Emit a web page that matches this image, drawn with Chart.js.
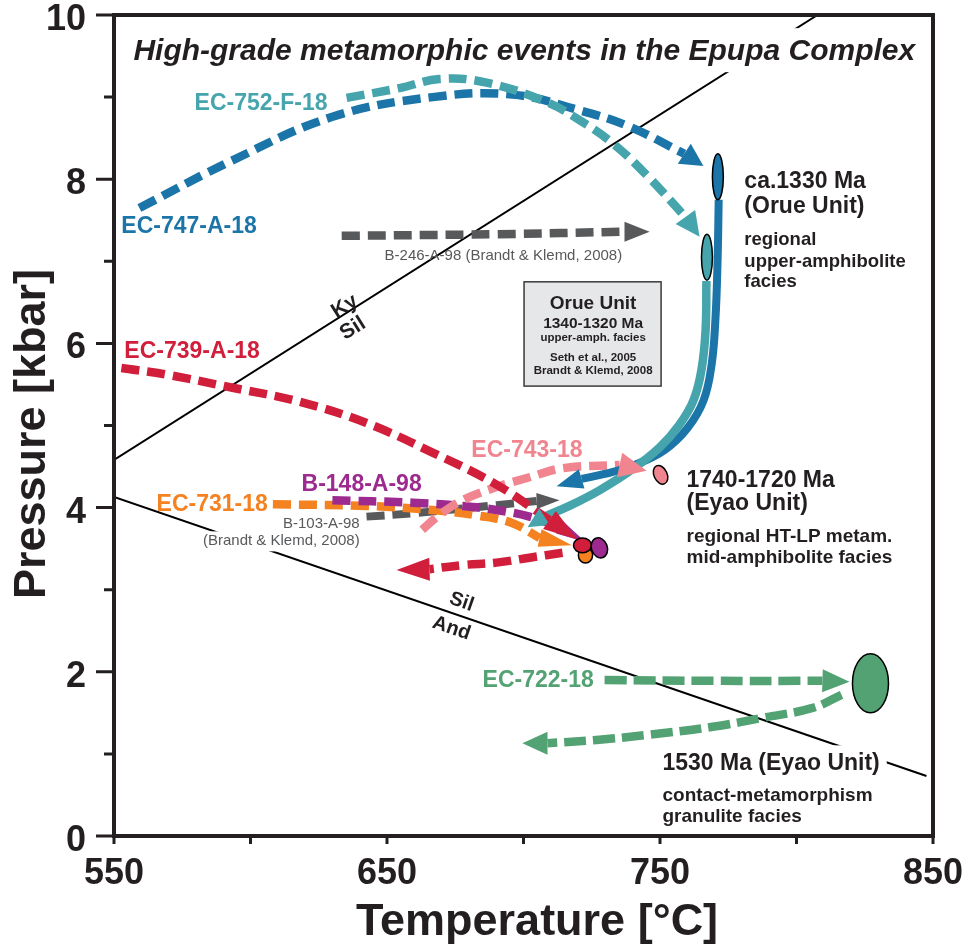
<!DOCTYPE html>
<html>
<head>
<meta charset="utf-8">
<title>P-T paths, Epupa Complex</title>
<script src="https://cdn.jsdelivr.net/npm/chart.js@4.4.1/dist/chart.umd.min.js"></script>
<style>
  html, body { margin: 0; padding: 0; background: #fff; }
  #wrap { width: 976px; height: 947px; position: relative; }
</style>
</head>
<body>
<div id="wrap"><canvas id="pt"></canvas></div>
<script>
// axis ticks
const tempTicks = [550, 650, 750, 850];
const pressureTicks = [0, 2, 4, 6, 8, 10];

// reaction boundaries [T degC, P kbar]
const kySil = [[550, 4.58], [807.7, 10]];
const silAnd = [[550, 4.13], [847.6, 0.73]];

// P-T paths [T, P]; the last pair is where the arrow points
const ec747 = [[559.3, 7.65], [593.4, 8.23], [630.0, 8.76], [666.7, 9.00], [696.0, 9.03], [720.5, 8.84], [738.8, 8.64], [758.9, 8.31], [765.9, 8.16]];
const ec752 = [[635.2, 8.99], [654.6, 9.11], [669.2, 9.22], [686.0, 9.18], [708.4, 8.94], [720.5, 8.72], [732.6, 8.44], [745.1, 8.05], [759.3, 7.54], [764.5, 7.30]];
const b246 = [[633.4, 7.31], [690.0, 7.33], [737.0, 7.36], [746.2, 7.36]];
const ec739 = [[552.7, 5.70], [569.2, 5.62], [593.4, 5.46], [617.9, 5.29], [642.5, 5.03], [666.7, 4.67], [690.1, 4.28], [709.5, 3.85], [719.8, 3.61]];
const ec739Retro = [[714.3, 3.45], [702.2, 3.39], [690.1, 3.33], [677.7, 3.30], [665.6, 3.25], [653.5, 3.24]];
const ec743 = [[662.9, 3.73], [669.2, 3.91], [677.7, 4.09], [690.1, 4.25], [702.2, 4.37], [714.3, 4.48], [735.2, 4.52], [745.1, 4.45]];
const b148 = [[630.0, 4.09], [659.3, 4.06], [677.7, 4.02], [690.1, 3.97], [702.2, 3.89], [713.2, 3.76], [722.7, 3.58]];
const ec731 = [[608.2, 4.04], [642.5, 4.02], [666.7, 3.97], [683.9, 3.90], [696.0, 3.81], [705.9, 3.63], [717.7, 3.54]];
const b103 = [[642.5, 3.89], [659.3, 3.93], [675.0, 3.98], [690.1, 4.03], [704.8, 4.08], [713.2, 4.09]];
const ec722 = [[729.7, 1.90], [770.0, 1.89], [809.5, 1.89], [819.4, 1.88]];
const ec722Retro = [[816.5, 1.72], [805.9, 1.56], [787.6, 1.44], [769.3, 1.33], [745.1, 1.23], [726.7, 1.17], [708.8, 1.13], [699.6, 1.13]];
const orueBlue = [[771.5, 7.75], [771.1, 7.02], [770.3, 6.29], [768.9, 5.74], [766.0, 5.31], [760.1, 4.97], [751.6, 4.70], [740.7, 4.52], [729.7, 4.41], [721.3, 4.35], [712.1, 4.26]];
const orueTeal = [[767.0, 6.76], [766.7, 6.16], [765.2, 5.68], [762.3, 5.31], [757.1, 5.01], [749.8, 4.73], [739.6, 4.46], [727.8, 4.21], [716.8, 4.02], [707.7, 3.89], [701.5, 3.76]];

// peak conditions [T, P, halfwidth T, halfwidth P]
const peak747 = [771.2, 8.03, 2.0, 0.28];
const peak752 = [767.2, 7.05, 2.0, 0.28];
const peak743 = [750.2, 4.40, 2.4, 0.12];
const peak731 = [722.7, 3.42, 2.6, 0.095];
const peak739 = [721.6, 3.54, 3.3, 0.09];
const peak148 = [727.8, 3.51, 2.9, 0.125];
const peak722 = [827.1, 1.86, 6.6, 0.36];

const FONT = "'Liberation Sans', Arial, Helvetica, sans-serif";
const INK = '#231f20';
const col = {
  blue: '#1b75a9', teal: '#46a5ac', grey: '#58595b', red: '#d01e3b',
  pink: '#f08590', purple: '#9c2a8f', orange: '#f58221', green: '#53a273'
};

function boundary(pts) {
  return {
    data: pts.map(([t, p]) => ({x: t, y: p})),
    showLine: true, borderColor: '#000', borderWidth: 2, pointRadius: 0, tension: 0
  };
}

function path(pts, color, extra) {
  const end = pts[pts.length - 1];
  return Object.assign({
    data: pts.slice(0, -1).map(([t, p]) => ({x: t, y: p})),
    tip: {x: end[0], y: end[1]},
    tipWidth: 22,
    showLine: true, borderColor: color, borderWidth: 8.5, borderDash: [18, 8],
    borderCapStyle: 'butt', pointRadius: 0, tension: 0.4
  }, extra || {});
}

// bottom layer first
const layers = [
  boundary(kySil),
  boundary(silAnd),
  path(b246, col.grey, {tipWidth: 20}),
  path(ec747, col.blue, {tipWidth: 24}),
  path(ec752, col.teal, {tipWidth: 24}),
  path(b103, col.grey, {tipWidth: 16, borderWidth: 8}),
  path(ec731, col.orange, {tipWidth: 18}),
  path(b148, col.purple, {tipWidth: 14}),
  path(ec743, col.pink, {tipWidth: 25}),
  path(orueBlue, col.blue, {borderDash: [], borderWidth: 8, tipWidth: 20}),
  path(orueTeal, col.teal, {borderDash: [], borderWidth: 8.5, tipWidth: 20}),
  path(ec739, col.red, {tipWidth: 22}),
  path(ec739Retro, col.red, {tipWidth: 23}),
  path(ec722, col.green, {tipWidth: 23, borderDash: [22, 7]}),
  path(ec722Retro, col.green, {tipWidth: 23, borderDash: [22, 7]})
];
layers.forEach((d, i) => { d.order = layers.length - i; });

const peaks = [
  {v: peak747, color: col.blue, rot: 0},
  {v: peak752, color: col.teal, rot: 0},
  {v: peak743, color: col.pink, rot: -25},
  {v: peak731, color: col.orange, rot: 0},
  {v: peak739, color: col.red, rot: 0},
  {v: peak148, color: col.purple, rot: -20},
  {v: peak722, color: col.green, rot: 0}
];

const bold = s => `bold ${s}px ${FONT}`;
const plain = s => `${s}px ${FONT}`;

// text placed at [T, P] (baseline)
const notes = [
  {text: 'EC-752-F-18', t: 579.5, p: 8.84, font: bold(23), color: col.teal},
  {text: 'EC-747-A-18', t: 552.7, p: 7.34, font: bold(23), color: col.blue},
  {text: 'EC-739-A-18', t: 553.8, p: 5.82, font: bold(23), color: col.red},
  {text: 'B-148-A-98', t: 618.7, p: 4.20, font: bold(23), color: col.purple},
  {text: 'EC-731-18', t: 565.6, p: 3.96, font: bold(23), color: col.orange},
  {text: 'B-103-A-98', t: 640.0, p: 3.75, font: plain(15), color: col.grey, align: 'right'},
  {text: '(Brandt & Klemd, 2008)', t: 640.0, p: 3.54, font: plain(15), color: col.grey, align: 'right', bg: 3},
  {text: 'EC-743-18', t: 680.9, p: 4.62, font: bold(23), color: col.pink},
  {text: 'EC-722-18', t: 685.0, p: 1.81, font: bold(23), color: col.green},
  {text: 'B-246-A-98 (Brandt & Klemd, 2008)', t: 649.1, p: 7.02, font: plain(15), color: col.grey},
  {text: 'ca.1330 Ma', t: 780.9, p: 7.89, font: bold(23), color: INK},
  {text: '(Orue Unit)', t: 780.9, p: 7.59, font: bold(23), color: INK},
  {text: 'regional', t: 780.9, p: 7.20, font: bold(18.5), color: INK},
  {text: 'upper-amphibolite', t: 780.9, p: 6.93, font: bold(18.5), color: INK},
  {text: 'facies', t: 780.9, p: 6.69, font: bold(18.5), color: INK},
  {text: '1740-1720 Ma', t: 759.7, p: 4.25, font: bold(23), color: INK},
  {text: '(Eyao Unit)', t: 759.7, p: 3.97, font: bold(23), color: INK},
  {text: 'regional HT-LP metam.', t: 759.7, p: 3.58, font: bold(19), color: INK},
  {text: 'mid-amphibolite facies', t: 759.7, p: 3.33, font: bold(19), color: INK},
  {text: '1530 Ma (Eyao Unit)', t: 750.9, p: 0.80, font: bold(23), color: INK, bg: 7},
  {text: 'contact-metamorphism', t: 750.9, p: 0.43, font: bold(19), color: INK},
  {text: 'granulite facies', t: 750.9, p: 0.17, font: bold(19), color: INK},
  {text: 'Ky', t: 634.5, p: 6.45, font: bold(21), color: INK, align: 'center', mid: true, rot: -32.2},
  {text: 'Sil', t: 637.5, p: 6.18, font: bold(21), color: INK, align: 'center', mid: true, rot: -32.2},
  {text: 'Sil', t: 677.3, p: 2.85, font: bold(20), color: INK, align: 'center', mid: true, rot: 19},
  {text: 'And', t: 673.6, p: 2.53, font: bold(20), color: INK, align: 'center', mid: true, rot: 19}
];

// literature box for the Orue Unit
const orueBox = {t0: 700.2, t1: 750.4, p0: 5.48, p1: 6.75, tc: 725.5};
const orueLines = [
  {text: 'Orue Unit', p: 6.42, font: bold(19)},
  {text: '1340-1320 Ma', p: 6.19, font: bold(15.5)},
  {text: 'upper-amph. facies', p: 6.03, font: bold(11.5)},
  {text: 'Seth et al., 2005', p: 5.79, font: bold(11.5)},
  {text: 'Brandt & Klemd, 2008', p: 5.63, font: bold(11.5)}
];

const figureTitle = 'High-grade metamorphic events in the Epupa Complex';

const overlay = {
  id: 'overlay',
  afterDatasetsDraw(chart) {
    const {ctx, chartArea: a, scales: {x, y}} = chart;
    ctx.save();
    ctx.beginPath();
    ctx.rect(a.left, a.top, a.width, a.height);
    ctx.clip();

    // arrowheads
    chart.data.datasets.forEach(ds => {
      if (!ds.tip) return;
      const b = ds.data[ds.data.length - 1];
      const bx = x.getPixelForValue(b.x), by = y.getPixelForValue(b.y);
      const tx = x.getPixelForValue(ds.tip.x), ty = y.getPixelForValue(ds.tip.y);
      const len = Math.hypot(tx - bx, ty - by) || 1;
      const nx = -(ty - by) / len, ny = (tx - bx) / len;
      const w = ds.tipWidth / 2;
      ctx.fillStyle = ds.borderColor;
      ctx.beginPath();
      ctx.moveTo(tx, ty);
      ctx.lineTo(bx + nx * w, by + ny * w);
      ctx.lineTo(bx - nx * w, by - ny * w);
      ctx.closePath();
      ctx.fill();
    });

    // peak ellipses
    peaks.forEach(e => {
      const [t, p, dt, dp] = e.v;
      const cx = x.getPixelForValue(t), cy = y.getPixelForValue(p);
      const rx = Math.abs(x.getPixelForValue(t + dt) - cx);
      const ry = Math.abs(y.getPixelForValue(p + dp) - cy);
      ctx.beginPath();
      ctx.ellipse(cx, cy, rx, ry, e.rot * Math.PI / 180, 0, Math.PI * 2);
      ctx.fillStyle = e.color;
      ctx.fill();
      ctx.lineWidth = 1.5;
      ctx.strokeStyle = '#000';
      ctx.stroke();
    });

    // Orue Unit box
    const bx0 = x.getPixelForValue(orueBox.t0), bx1 = x.getPixelForValue(orueBox.t1);
    const by0 = y.getPixelForValue(orueBox.p1), by1 = y.getPixelForValue(orueBox.p0);
    ctx.fillStyle = '#e6e7e8';
    ctx.fillRect(bx0, by0, bx1 - bx0, by1 - by0);
    ctx.lineWidth = 1.5;
    ctx.strokeStyle = '#3a3a3c';
    ctx.strokeRect(bx0, by0, bx1 - bx0, by1 - by0);
    ctx.fillStyle = INK;
    ctx.textAlign = 'center';
    ctx.textBaseline = 'alphabetic';
    orueLines.forEach(l => {
      ctx.font = l.font;
      ctx.fillText(l.text, x.getPixelForValue(orueBox.tc), y.getPixelForValue(l.p));
    });

    // annotations
    notes.forEach(n => {
      const px = x.getPixelForValue(n.t), py = y.getPixelForValue(n.p);
      ctx.save();
      ctx.font = n.font;
      ctx.textAlign = n.align || 'left';
      ctx.textBaseline = n.mid ? 'middle' : 'alphabetic';
      ctx.translate(px, py);
      if (n.rot) ctx.rotate(n.rot * Math.PI / 180);
      if (n.bg) {
        const m = ctx.measureText(n.text);
        const w = m.width;
        const left = n.align === 'right' ? -w : 0;
        ctx.fillStyle = '#fff';
        ctx.fillRect(left - n.bg, -m.actualBoundingBoxAscent - n.bg,
          w + 2 * n.bg, m.actualBoundingBoxAscent + m.actualBoundingBoxDescent + 2 * n.bg);
      }
      ctx.fillStyle = n.color;
      ctx.fillText(n.text, 0, 0);
      ctx.restore();
    });

    // title with its white backing
    ctx.font = `italic bold 30px ${FONT}`;
    ctx.textAlign = 'left';
    const tw = ctx.measureText(figureTitle).width;
    const tx = x.getPixelForValue(557.1), ty = y.getPixelForValue(9.45);
    ctx.fillStyle = '#fff';
    ctx.fillRect(tx - 8, ty - 32, tw + 16, 44);
    ctx.fillStyle = INK;
    ctx.fillText(figureTitle, tx, ty);
    ctx.restore();

    // frame
    ctx.save();
    ctx.strokeStyle = INK;
    ctx.lineWidth = 4;
    ctx.strokeRect(a.left, a.top, a.width, a.height);

    // tick marks
    ctx.lineWidth = 3;
    ctx.beginPath();
    for (let p = 0; p <= 10; p++) {
      const py = y.getPixelForValue(p);
      ctx.moveTo(a.left - (p % 2 === 0 ? 18 : 10), py);
      ctx.lineTo(a.left, py);
    }
    for (let t = 550; t <= 850; t += 50) {
      const px = x.getPixelForValue(t);
      ctx.moveTo(px, a.bottom);
      ctx.lineTo(px, a.bottom + 8);
    }
    ctx.stroke();

    // axis titles
    ctx.fillStyle = INK;
    ctx.font = bold(45);
    ctx.textAlign = 'center';
    ctx.textBaseline = 'alphabetic';
    ctx.fillText('Temperature [°C]', 537, 935);
    ctx.translate(45, 434);
    ctx.rotate(-Math.PI / 2);
    ctx.fillText('Pressure [kbar]', 0, 0);
    ctx.restore();
  }
};

new Chart(document.getElementById('pt'), {
  type: 'scatter',
  data: {datasets: layers},
  options: {
    responsive: true,
    maintainAspectRatio: false,
    devicePixelRatio: 1,
    animation: false,
    events: [],
    layout: {padding: {top: 15, right: 43, left: 0, bottom: 0}},
    plugins: {legend: {display: false}, tooltip: {enabled: false}},
    scales: {
      x: {
        type: 'linear', min: 550, max: 850,
        grid: {display: false, drawTicks: false},
        border: {display: false},
        ticks: {
          stepSize: 50, autoSkip: false, padding: 16, color: INK,
          font: {family: FONT, weight: 'bold', size: 36},
          callback: v => tempTicks.includes(v) ? String(v) : ''
        },
        afterFit(s) { s.height = 111; s.paddingLeft = 0; s.paddingRight = 0; }
      },
      y: {
        type: 'linear', min: 0, max: 10,
        grid: {display: false, drawTicks: false},
        border: {display: false},
        ticks: {
          stepSize: 1, autoSkip: false, padding: 28, labelOffset: 5, color: INK,
          font: {family: FONT, weight: 'bold', size: 36},
          callback: v => pressureTicks.includes(v) ? String(v) : ''
        },
        afterFit(s) { s.width = 114; s.paddingTop = 0; s.paddingBottom = 0; }
      }
    }
  },
  plugins: [overlay]
});
</script>
</body>
</html>
